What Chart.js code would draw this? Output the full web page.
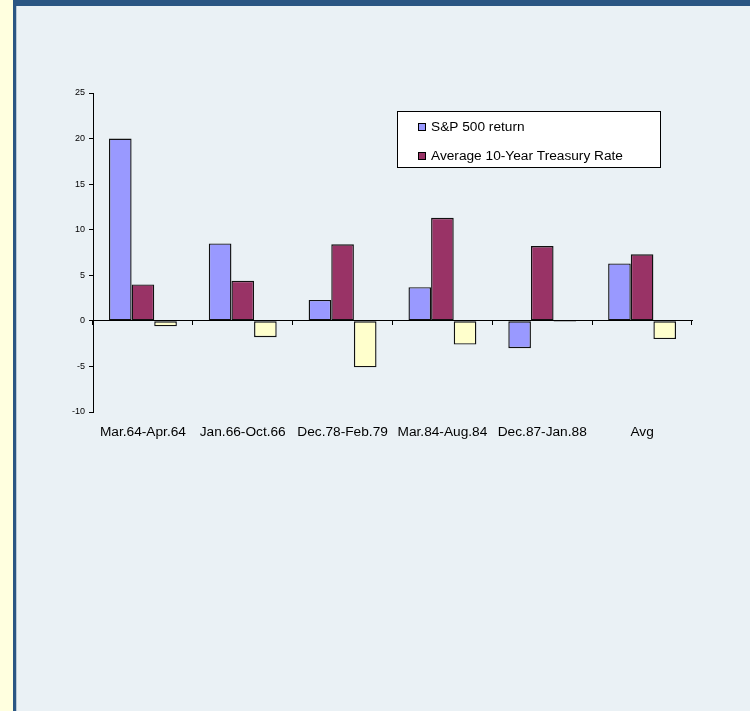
<!DOCTYPE html>
<html>
<head>
<meta charset="utf-8">
<script src="https://cdn.jsdelivr.net/npm/chart.js@4"></script>
<style>
  html, body { margin: 0; padding: 0; }
  body { width: 750px; height: 711px; position: relative; overflow: hidden; background: #EAF1F5; }
  #strip { position: absolute; left: 0; top: 0; width: 13px; height: 711px; background: #FFFFDF; }
  #sideBar { position: absolute; left: 13px; top: 0; width: 3px; height: 711px; background: #2B5683; border-right: 1px solid #B9C8D6; }
  #topBar { position: absolute; left: 13px; top: 0; width: 737px; height: 6px; background: #2B5683; }
  #wrap { position: absolute; left: 17px; top: 6px; width: 733px; height: 705px; }
  canvas { display: block; }
</style>
</head>
<body>
<div id="strip"></div>
<div id="sideBar"></div>
<div id="topBar"></div>
<div id="wrap"><canvas id="chart" width="733" height="705"></canvas></div>
<script>
const categories = ["Mar.64-Apr.64", "Jan.66-Oct.66", "Dec.78-Feb.79", "Mar.84-Aug.84", "Dec.87-Jan.88", "Avg"];
const spReturn = [20.0, 8.5, 2.3, 3.7, -3.0, 6.3];
const treasuryRate = [4.0, 4.4, 8.4, 11.3, 8.2, 7.3];
const thirdSeries = [-0.6, -1.8, -5.1, -2.6, -0.1, -2.0];
const yTicks = [-10, -5, 0, 5, 10, 15, 20, 25];

const font = "Liberation Sans, Arial, sans-serif";

// legend box drawn by hand so it can sit inside the plot like the original
const boxLegend = {
    id: "boxLegend",
    afterDraw(chart) {
        const ctx = chart.ctx;
        const x = 380, y = 105, w = 263, h = 56;
        ctx.save();
        ctx.fillStyle = "#fff";
        ctx.fillRect(x, y, w, h);
        ctx.strokeStyle = "#000";
        ctx.lineWidth = 1;
        ctx.strokeRect(x + 0.5, y + 0.5, w, h);
        ctx.font = "13.7px " + font;
        ctx.textBaseline = "middle";
        const items = chart.data.datasets.filter(d => d.label);
        items.forEach((d, i) => {
            const cy = y + 16 + i * 29;
            ctx.fillStyle = d.backgroundColor;
            ctx.fillRect(x + 21, cy - 4, 8, 8);
            ctx.strokeStyle = "#000";
            ctx.strokeRect(x + 21.5, cy - 3.5, 7, 7);
            ctx.fillStyle = "#000";
            ctx.fillText(d.label, x + 34, cy);
        });
        ctx.restore();
    }
};

new Chart(document.getElementById("chart"), {
    type: "bar",
    data: {
        labels: categories,
        datasets: [
            { label: "S&P 500 return", data: spReturn, backgroundColor: "#9999FF" },
            { label: "Average 10-Year Treasury Rate", data: treasuryRate, backgroundColor: "#993366" },
            { label: "", data: thirdSeries, backgroundColor: "#FFFFCC" }
        ].map(d => Object.assign(d, { borderColor: "#111", borderWidth: 1.4, borderSkipped: false, categoryPercentage: 0.68, barPercentage: 1 }))
    },
    options: {
        responsive: false,
        animation: false,
        devicePixelRatio: 1,
        layout: { padding: { top: 87, right: 58, left: 0, bottom: 0 } },
        plugins: { legend: { display: false }, tooltip: { enabled: false } },
        scales: {
            x: {
                offset: true,
                grid: { display: false, drawTicks: false },
                border: { display: false },
                ticks: { color: "#000", font: { family: font, size: 13.7 }, padding: 12, maxRotation: 0, autoSkip: false },
                afterFit: s => { s.height = 299; }
            },
            x2: {
                type: "category",
                labels: categories,
                position: { y: 0 },
                offset: true,
                grid: { offset: true, drawOnChartArea: false, color: "#000", tickLength: 4 },
                border: { color: "#000" },
                ticks: { display: false }
            },
            y: {
                min: -10,
                max: 25,
                afterBuildTicks: s => { s.ticks = yTicks.map(v => ({ value: v })); },
                grid: { drawOnChartArea: false, color: "#000", tickLength: 4 },
                border: { color: "#000" },
                ticks: { color: "#000", font: { family: font, size: 9 }, padding: 4 },
                afterFit: s => { s.width = 76; }
            }
        }
    },
    plugins: [boxLegend]
});
</script>
</body>
</html>
